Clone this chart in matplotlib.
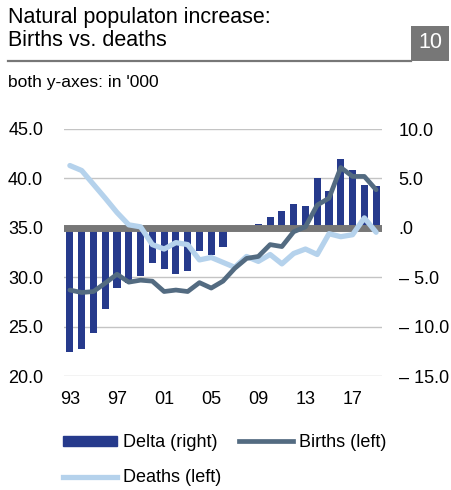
import numpy as np
import matplotlib
matplotlib.use('Agg')
import matplotlib.pyplot as plt
from matplotlib.patches import Patch, Rectangle
from matplotlib.lines import Line2D

plt.rcParams['font.family'] = ['Liberation Sans', 'DejaVu Sans']

# data, in '000
years = list(range(1993, 2020))
year_labels = ['93', '97', '01', '05', '09', '13', '17']
births = [28.7, 28.45, 28.55, 29.4, 30.3, 29.5, 29.7, 29.6, 28.55, 28.7, 28.55, 29.45, 28.9,
          29.6, 30.9, 31.9, 32.1, 33.3, 33.1, 34.6, 35.1, 37.3, 38.0, 41.1, 40.2, 40.2, 38.85]
deaths = [41.3, 40.8, 39.4, 38.0, 36.55, 35.3, 35.1, 33.3, 32.85, 33.5, 33.3, 31.75, 32.0,
          31.5, 31.0, 32.1, 31.6, 32.3, 31.35, 32.4, 32.85, 32.3, 34.4, 34.1, 34.3, 36.0, 34.55]
delta = [-12.6, -12.3, -10.6, -8.2, -6.1, -5.6, -4.9, -3.6, -4.2, -4.7, -4.4, -2.3, -2.8,
         -1.9, -0.1, -0.1, 0.4, 1.1, 1.7, 2.4, 2.2, 5.0, 3.7, 7.0, 5.8, 4.3, 4.2]
left_ticks = [20, 25, 30, 35, 40, 45]
right_ticks = [-15, -10, -5, 0, 5, 10]
right_labels = ['\u2013 15.0', '\u2013 10.0', '\u2013 5.0', '.0', '5.0', '10.0']

bar_col = '#263a8c'
birth_col = '#536b81'
death_col = '#b5d2ec'
grey = '#777777'

fig = plt.figure(figsize=(4.51, 4.90), dpi=100)
ax = fig.add_axes([64/451, 1-376/490, 318/451, 247/490])
ax2 = ax.twinx()
ax.set_zorder(ax2.get_zorder()+1)
ax.patch.set_visible(False)

x = np.arange(len(years))

# right axis: bars, grid, zero line
ax2.set_axisbelow(True)
ax2.grid(axis='y', color='#c4c4c4', linewidth=1.0)
ax2.bar(x, delta, width=0.6, color=bar_col, zorder=2)
ax2.axhline(0, color=grey, linewidth=5, zorder=3)
ax2.set_ylim(-15, 10)
ax2.set_yticks(right_ticks)
ax2.set_yticklabels(right_labels)

# left axis: lines
ax.plot(x, deaths, color=death_col, linewidth=3.8, solid_capstyle='round', zorder=4)
ax.plot(x, births, color=birth_col, linewidth=3.4, solid_capstyle='round', zorder=5)
ax.set_ylim(20, 45)
ax.set_yticks(left_ticks)
ax.set_yticklabels(['%.1f' % v for v in left_ticks])
ax.set_xlim(-0.5, len(years)-0.5)
ax.set_xticks([years.index(1900+int(s)) if int(s) > 50 else years.index(2000+int(s)) for s in year_labels])
ax.set_xticklabels(year_labels)

for a in (ax, ax2):
    for s in a.spines.values():
        s.set_visible(False)
    a.tick_params(length=0, labelsize=13, colors='black')
ax.tick_params(axis='y', pad=15)
ax2.tick_params(axis='y', pad=12)
ax.tick_params(axis='x', pad=11)

# header
fig.text(8/451, 1-7/490, 'Natural populaton increase:\nBirths vs. deaths', fontsize=15.5,
         va='top', ha='left', linespacing=1.15)
fig.add_artist(Line2D([8/451, 411/451], [1-61/490, 1-61/490], color=grey, linewidth=1.6))
fig.add_artist(Rectangle((411/451, 1-61/490), 38/451, 35/490, color=grey, linewidth=0))
fig.text(430/451, 1-43/490, '10', color='white', fontsize=15.5, ha='center', va='center')
fig.text(8/451, 1-83/490, "both y-axes: in '000", fontsize=12.5, va='center', ha='left')

# legend (column-major fill: Delta, Deaths | Births)
handles = [Patch(color=bar_col), Line2D([], [], color=death_col, linewidth=3.8),
           Line2D([], [], color=birth_col, linewidth=3.4)]
labels = ['Delta (right)', 'Deaths (left)', 'Births (left)']
fig.legend(handles, labels, loc='upper left', bbox_to_anchor=(56/451, 1-427/490), ncol=2,
           frameon=False, fontsize=13, handlelength=3.0, handleheight=0.5, handletextpad=0.3,
           columnspacing=1.0, labelspacing=1.0, borderaxespad=0)

fig.savefig('out.png', dpi=100)
